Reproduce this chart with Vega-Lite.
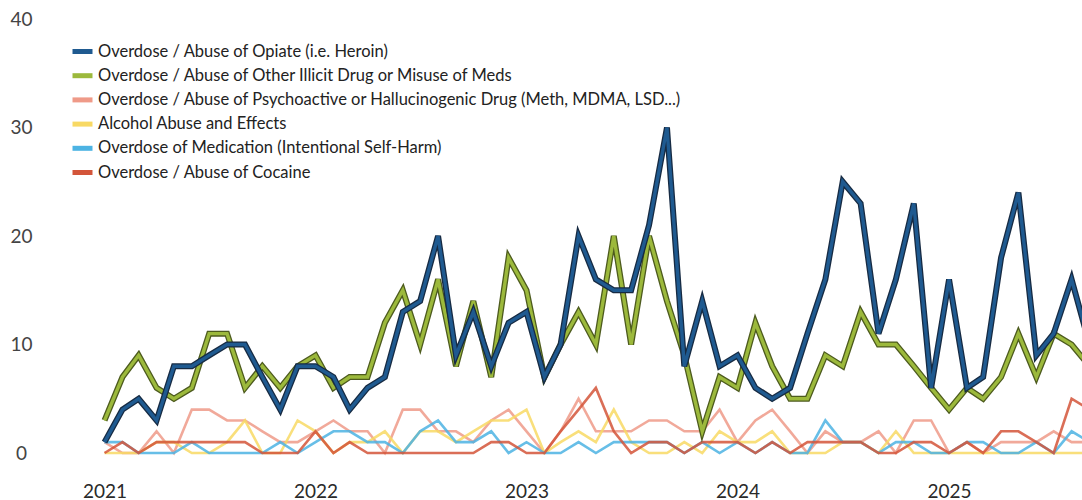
{
  "$schema": "https://vega.github.io/schema/vega-lite/v6.json",
  "width": 1037,
  "height": 434,
  "autosize": {"type": "none"},
  "padding": {"left": 45, "top": 19, "right": 0, "bottom": 47},
  "background": "white",
  "config": {"view": {"stroke": null}, "font": "Lato"},
  "data": {"values": [
    {"m":"2021-01-01","opiate":1,"illicit":3,"psycho":1,"alcohol":0,"medication":1,"cocaine":0},
    {"m":"2021-02-01","opiate":4,"illicit":7,"psycho":0,"alcohol":0,"medication":1,"cocaine":1},
    {"m":"2021-03-01","opiate":5,"illicit":9,"psycho":0,"alcohol":0,"medication":0,"cocaine":0},
    {"m":"2021-04-01","opiate":3,"illicit":6,"psycho":2,"alcohol":1,"medication":0,"cocaine":1},
    {"m":"2021-05-01","opiate":8,"illicit":5,"psycho":0,"alcohol":1,"medication":0,"cocaine":1},
    {"m":"2021-06-01","opiate":8,"illicit":6,"psycho":4,"alcohol":0,"medication":1,"cocaine":1},
    {"m":"2021-07-01","opiate":9,"illicit":11,"psycho":4,"alcohol":0,"medication":0,"cocaine":1},
    {"m":"2021-08-01","opiate":10,"illicit":11,"psycho":3,"alcohol":1,"medication":0,"cocaine":1},
    {"m":"2021-09-01","opiate":10,"illicit":6,"psycho":3,"alcohol":3,"medication":0,"cocaine":1},
    {"m":"2021-10-01","opiate":7,"illicit":8,"psycho":2,"alcohol":0,"medication":0,"cocaine":0},
    {"m":"2021-11-01","opiate":4,"illicit":6,"psycho":1,"alcohol":0,"medication":1,"cocaine":0},
    {"m":"2021-12-01","opiate":8,"illicit":8,"psycho":1,"alcohol":3,"medication":0,"cocaine":0},
    {"m":"2022-01-01","opiate":8,"illicit":9,"psycho":2,"alcohol":2,"medication":1,"cocaine":2},
    {"m":"2022-02-01","opiate":7,"illicit":6,"psycho":3,"alcohol":0,"medication":2,"cocaine":0},
    {"m":"2022-03-01","opiate":4,"illicit":7,"psycho":2,"alcohol":1,"medication":2,"cocaine":1},
    {"m":"2022-04-01","opiate":6,"illicit":7,"psycho":2,"alcohol":1,"medication":1,"cocaine":0},
    {"m":"2022-05-01","opiate":7,"illicit":12,"psycho":0,"alcohol":2,"medication":1,"cocaine":0},
    {"m":"2022-06-01","opiate":13,"illicit":15,"psycho":4,"alcohol":0,"medication":0,"cocaine":0},
    {"m":"2022-07-01","opiate":14,"illicit":10,"psycho":4,"alcohol":2,"medication":2,"cocaine":0},
    {"m":"2022-08-01","opiate":20,"illicit":16,"psycho":2,"alcohol":2,"medication":3,"cocaine":0},
    {"m":"2022-09-01","opiate":9,"illicit":8,"psycho":2,"alcohol":1,"medication":1,"cocaine":0},
    {"m":"2022-10-01","opiate":13,"illicit":14,"psycho":1,"alcohol":2,"medication":1,"cocaine":0},
    {"m":"2022-11-01","opiate":8,"illicit":7,"psycho":3,"alcohol":3,"medication":2,"cocaine":1},
    {"m":"2022-12-01","opiate":12,"illicit":18,"psycho":4,"alcohol":3,"medication":0,"cocaine":1},
    {"m":"2023-01-01","opiate":13,"illicit":15,"psycho":2,"alcohol":4,"medication":1,"cocaine":0},
    {"m":"2023-02-01","opiate":7,"illicit":7,"psycho":0,"alcohol":0,"medication":0,"cocaine":0},
    {"m":"2023-03-01","opiate":10,"illicit":10,"psycho":2,"alcohol":1,"medication":0,"cocaine":2},
    {"m":"2023-04-01","opiate":20,"illicit":13,"psycho":5,"alcohol":2,"medication":1,"cocaine":4},
    {"m":"2023-05-01","opiate":16,"illicit":10,"psycho":2,"alcohol":1,"medication":0,"cocaine":6},
    {"m":"2023-06-01","opiate":15,"illicit":20,"psycho":2,"alcohol":4,"medication":1,"cocaine":2},
    {"m":"2023-07-01","opiate":15,"illicit":10,"psycho":2,"alcohol":1,"medication":1,"cocaine":0},
    {"m":"2023-08-01","opiate":21,"illicit":20,"psycho":3,"alcohol":0,"medication":1,"cocaine":1},
    {"m":"2023-09-01","opiate":30,"illicit":14,"psycho":3,"alcohol":0,"medication":1,"cocaine":1},
    {"m":"2023-10-01","opiate":8,"illicit":9,"psycho":2,"alcohol":1,"medication":0,"cocaine":0},
    {"m":"2023-11-01","opiate":14,"illicit":2,"psycho":2,"alcohol":0,"medication":1,"cocaine":1},
    {"m":"2023-12-01","opiate":8,"illicit":7,"psycho":4,"alcohol":2,"medication":0,"cocaine":1},
    {"m":"2024-01-01","opiate":9,"illicit":6,"psycho":1,"alcohol":1,"medication":1,"cocaine":1},
    {"m":"2024-02-01","opiate":6,"illicit":12,"psycho":3,"alcohol":1,"medication":0,"cocaine":0},
    {"m":"2024-03-01","opiate":5,"illicit":8,"psycho":4,"alcohol":2,"medication":1,"cocaine":1},
    {"m":"2024-04-01","opiate":6,"illicit":5,"psycho":2,"alcohol":0,"medication":0,"cocaine":0},
    {"m":"2024-05-01","opiate":11,"illicit":5,"psycho":0,"alcohol":0,"medication":0,"cocaine":1},
    {"m":"2024-06-01","opiate":16,"illicit":9,"psycho":2,"alcohol":0,"medication":3,"cocaine":1},
    {"m":"2024-07-01","opiate":25,"illicit":8,"psycho":1,"alcohol":1,"medication":1,"cocaine":1},
    {"m":"2024-08-01","opiate":23,"illicit":13,"psycho":1,"alcohol":1,"medication":1,"cocaine":1},
    {"m":"2024-09-01","opiate":11,"illicit":10,"psycho":2,"alcohol":0,"medication":0,"cocaine":0},
    {"m":"2024-10-01","opiate":16,"illicit":10,"psycho":0,"alcohol":2,"medication":1,"cocaine":0},
    {"m":"2024-11-01","opiate":23,"illicit":8,"psycho":3,"alcohol":0,"medication":1,"cocaine":1},
    {"m":"2024-12-01","opiate":6,"illicit":6,"psycho":3,"alcohol":0,"medication":0,"cocaine":1},
    {"m":"2025-01-01","opiate":16,"illicit":4,"psycho":0,"alcohol":0,"medication":0,"cocaine":0},
    {"m":"2025-02-01","opiate":6,"illicit":6,"psycho":1,"alcohol":0,"medication":1,"cocaine":1},
    {"m":"2025-03-01","opiate":7,"illicit":5,"psycho":0,"alcohol":0,"medication":1,"cocaine":0},
    {"m":"2025-04-01","opiate":18,"illicit":7,"psycho":1,"alcohol":0,"medication":0,"cocaine":2},
    {"m":"2025-05-01","opiate":24,"illicit":11,"psycho":1,"alcohol":0,"medication":0,"cocaine":2},
    {"m":"2025-06-01","opiate":9,"illicit":7,"psycho":1,"alcohol":0,"medication":1,"cocaine":1},
    {"m":"2025-07-01","opiate":11,"illicit":11,"psycho":2,"alcohol":0,"medication":0,"cocaine":0},
    {"m":"2025-08-01","opiate":16,"illicit":10,"psycho":1,"alcohol":0,"medication":2,"cocaine":5},
    {"m":"2025-09-01","opiate":10,"illicit":8,"psycho":1,"alcohol":0,"medication":1,"cocaine":4}
  ]},
  "transform": [
    {"fold": ["opiate","illicit","psycho","alcohol","medication","cocaine"], "as": ["key","n"]},
    {"lookup": "key", "from": {"data": {"values": [
      {"key":"opiate","series":"Overdose / Abuse of Opiate (i.e. Heroin)"},
      {"key":"illicit","series":"Overdose / Abuse of Other Illicit Drug or Misuse of Meds"},
      {"key":"psycho","series":"Overdose / Abuse of Psychoactive or Hallucinogenic Drug (Meth, MDMA, LSD...)"},
      {"key":"alcohol","series":"Alcohol Abuse and Effects"},
      {"key":"medication","series":"Overdose of Medication (Intentional Self-Harm)"},
      {"key":"cocaine","series":"Overdose / Abuse of Cocaine"}
    ]}, "key": "key", "fields": ["series"]}}
  ],
  "encoding": {
    "x": {"field": "m", "type": "temporal",
      "scale": {"type": "utc", "domain": [{"year":2020,"month":9,"date":20,"utc":true},{"year":2025,"month":8,"date":19,"utc":true}]},
      "axis": {"title": null, "grid": false, "domain": false, "ticks": false, "tickSize": 0, "format": "%Y",
        "values": [{"year":2021,"month":1,"date":1,"utc":true},{"year":2022,"month":1,"date":1,"utc":true},{"year":2023,"month":1,"date":1,"utc":true},{"year":2024,"month":1,"date":1,"utc":true},{"year":2025,"month":1,"date":1,"utc":true}],
        "labelFontSize": 19, "labelColor": "#2a2a2a", "labelPadding": 29, "labelFont": "Lato"}},
    "y": {"field": "n", "type": "quantitative",
      "scale": {"domain": [0, 40], "nice": false},
      "axis": {"title": null, "grid": false, "domain": false, "ticks": false, "tickSize": 0, "values": [0,10,20,30,40],
        "labelFontSize": 19, "labelColor": "#444444", "labelAlign": "center", "labelPadding": 24, "labelFont": "Lato"}},
    "color": {"field": "series", "type": "nominal",
      "scale": {"domain": [
        "Overdose / Abuse of Opiate (i.e. Heroin)",
        "Overdose / Abuse of Other Illicit Drug or Misuse of Meds",
        "Overdose / Abuse of Psychoactive or Hallucinogenic Drug (Meth, MDMA, LSD...)",
        "Alcohol Abuse and Effects",
        "Overdose of Medication (Intentional Self-Harm)",
        "Overdose / Abuse of Cocaine"],
        "range": ["#1f5a90", "#9cb93c", "#ef9a88", "#f8d964", "#4cb3e3", "#d3553a"]},
      "legend": {"title": null, "orient": "none", "legendX": 25, "legendY": 20, "symbolType": "stroke", "symbolSize": 400,
        "symbolStrokeWidth": 5, "labelFontSize": 16.5, "labelFont": "Lato", "labelColor": "#222222", "labelOffset": 3,
        "rowPadding": 1.2, "padding": 0, "labelLimit": 800, "symbolOpacity": 1}}
  },
  "layer": [
    {"transform": [{"filter": "datum.key === 'psycho'"}], "mark": {"type": "line", "strokeWidth": 2.6, "opacity": 0.85}},
    {"transform": [{"filter": "datum.key === 'alcohol'"}], "mark": {"type": "line", "strokeWidth": 2.6, "opacity": 0.85}},
    {"transform": [{"filter": "datum.key === 'medication'"}], "mark": {"type": "line", "strokeWidth": 2.6, "opacity": 0.85}},
    {"transform": [{"filter": "datum.key === 'cocaine'"}], "mark": {"type": "line", "strokeWidth": 2.6, "opacity": 0.85}},
    {"transform": [{"filter": "datum.key === 'illicit'"}], "mark": {"type": "line", "strokeWidth": 6, "strokeJoin": "miter"}, "encoding": {"color": {"value": "#4d5b1e"}}},
    {"transform": [{"filter": "datum.key === 'illicit'"}], "mark": {"type": "line", "strokeWidth": 3.4, "strokeJoin": "miter"}},
    {"transform": [{"filter": "datum.key === 'opiate'"}], "mark": {"type": "line", "strokeWidth": 6, "strokeJoin": "miter"}, "encoding": {"color": {"value": "#172b43"}}},
    {"transform": [{"filter": "datum.key === 'opiate'"}], "mark": {"type": "line", "strokeWidth": 3.4, "strokeJoin": "miter"}}
  ]
}
